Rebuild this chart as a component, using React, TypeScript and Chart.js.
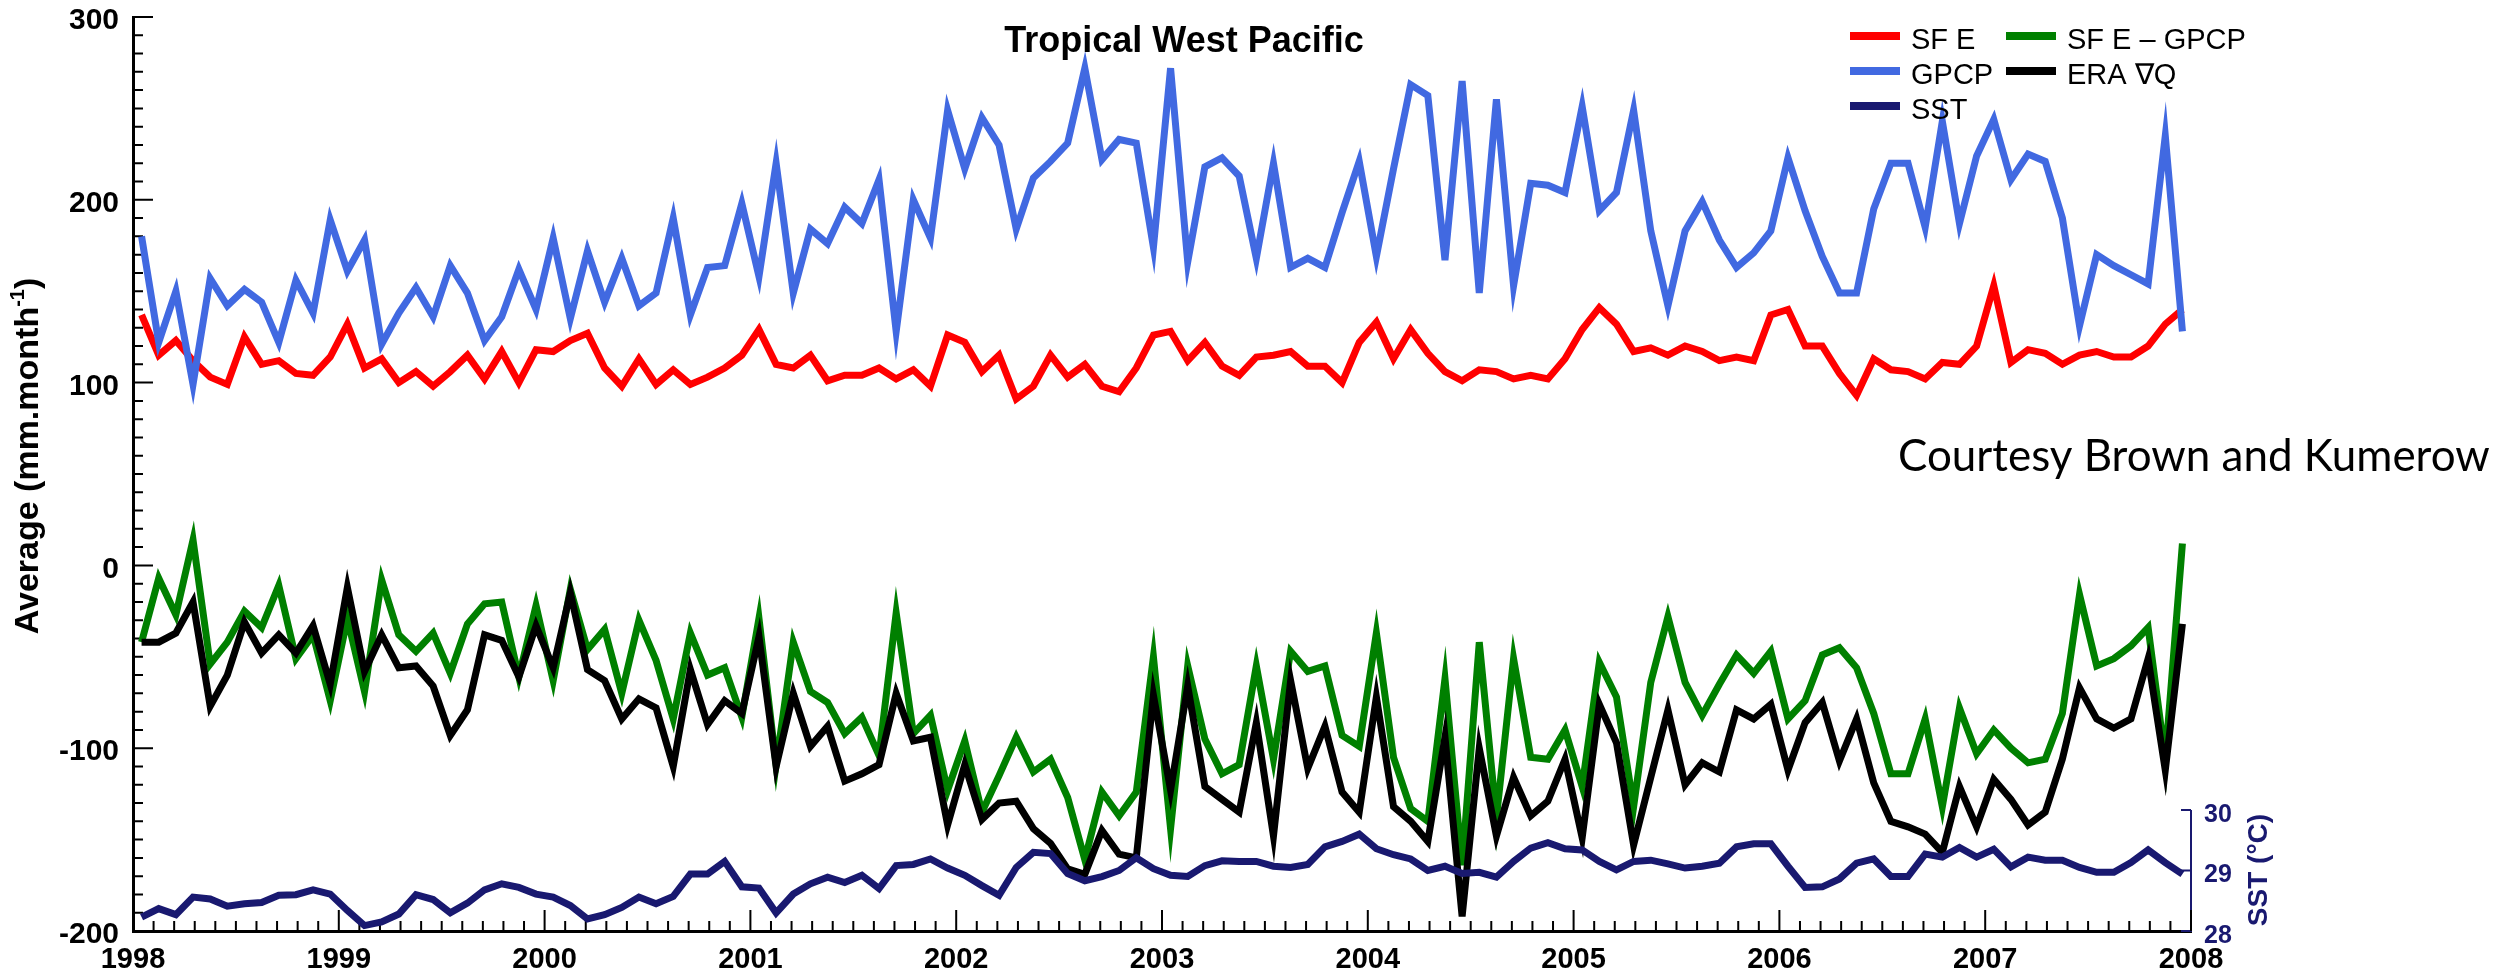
import React, { useEffect, useRef } from "react";
import { Chart, registerables } from "chart.js";

Chart.register(...registerables);

// ---------- data ----------
const YEAR_TICKS = [1998, 1999, 2000, 2001, 2002, 2003, 2004, 2005, 2006, 2007, 2008];
const LEFT_TICKS = [-200, -100, 0, 100, 200, 300];
const SST_TICKS = [28, 29, 30];
const SST_AXIS_MAX = 43.1; // SST 28..30 occupies the bottom strip of the plot

const SF_E = [
  137, 115, 123, 112, 103, 99, 125, 110, 112, 105, 104, 114,
  132, 108, 113, 100, 106, 98, 106, 115, 102, 117, 100, 118,
  117, 123, 127, 108, 98, 113, 99, 107, 99, 103, 108, 115,
  129, 110, 108, 115, 101, 104, 104, 108, 102, 107, 98, 126,
  122, 106, 115, 91, 98, 115, 103, 110, 98, 95, 108, 126,
  128, 112, 122, 109, 104, 114, 115, 117, 109, 109, 100, 122,
  133, 113, 129, 116, 106, 101, 107, 106, 102, 104, 102, 113,
  129, 141, 132, 117, 119, 115, 120, 117, 112, 114, 112, 137,
  140, 120, 120, 105, 93, 113, 107, 106, 102, 111, 110, 120,
  153, 111, 118, 116, 110, 115, 117, 114, 114, 120, 132, 140,
];

const GPCP = [
  180, 122, 150, 99, 157, 142, 151, 144, 122, 156, 138, 189,
  161, 178, 121, 138, 152, 136, 164, 149, 123, 136, 162, 140,
  179, 135, 172, 144, 168, 142, 149, 190, 137, 163, 164, 198,
  158, 220, 149, 184, 176, 196, 187, 211, 128, 200, 179, 249,
  217, 245, 230, 184, 212, 221, 231, 272, 222, 233, 231, 174,
  272, 166, 218, 223, 213, 168, 220, 163, 168, 163, 193, 221,
  169, 217, 263, 257, 167, 265, 149, 255, 153, 209, 208, 204,
  251, 194, 204, 249, 183, 142, 183, 199, 178, 163, 171, 183,
  223, 194, 169, 149, 149, 195, 220, 220, 185, 243, 187, 224,
  244, 211, 225, 221, 190, 131, 170, 164, 159, 154, 235, 128,
];

const SFE_MINUS_GPCP = [
  -42, -7, -27, 14, -54, -42, -25, -34, -11, -51, -38, -74,
  -29, -69, -8, -38, -47, -37, -59, -32, -21, -20, -61, -22,
  -63, -13, -46, -35, -70, -30, -52, -84, -37, -60, -56, -83,
  -29, -109, -42, -69, -75, -92, -83, -104, -26, -92, -82, -123,
  -96, -135, -115, -94, -113, -106, -127, -161, -124, -137, -124, -50,
  -144, -55, -95, -114, -109, -55, -106, -47, -58, -55, -93, -99,
  -37, -105, -133, -140, -62, -164, -42, -138, -51, -105, -106, -90,
  -121, -53, -72, -132, -64, -28, -64, -82, -65, -49, -59, -47,
  -84, -74, -49, -45, -56, -81, -114, -114, -84, -132, -78, -103,
  -90, -100, -108, -106, -81, -16, -55, -51, -44, -34, -106, 12,
];

const ERA_DQ = [
  -42, -42, -37, -20, -77, -60, -31, -48, -38, -48, -33, -65,
  -12, -58, -38, -56, -55, -66, -93, -79, -38, -41, -61, -33,
  -56, -15, -57, -63, -84, -73, -78, -110, -57, -87, -74, -81,
  -39, -110, -70, -99, -88, -118, -114, -109, -70, -96, -94, -142,
  -109, -139, -130, -129, -144, -152, -166, -169, -145, -158, -160, -71,
  -123, -66, -121, -128, -135, -86, -148, -63, -111, -88, -124, -135,
  -72, -132, -140, -151, -94, -192, -100, -148, -116, -137, -129, -106,
  -149, -76, -97, -153, -116, -79, -120, -108, -113, -79, -84, -76,
  -112, -86, -75, -107, -84, -119, -140, -143, -147, -157, -121, -143,
  -117, -128, -142, -135, -106, -67, -84, -89, -84, -51, -112, -32,
];

const SST = [
  28.23, 28.37, 28.27, 28.56, 28.53, 28.41, 28.45, 28.47, 28.59, 28.6, 28.68, 28.61,
  28.34, 28.09, 28.15, 28.28, 28.6, 28.52, 28.3, 28.46, 28.68, 28.78, 28.72, 28.61,
  28.56, 28.42, 28.2, 28.27, 28.39, 28.56, 28.45, 28.57, 28.94, 28.94, 29.15, 28.73,
  28.71, 28.3, 28.61, 28.78, 28.89, 28.8, 28.92, 28.7, 29.08, 29.1, 29.19, 29.04,
  28.92, 28.75, 28.59, 29.05, 29.3, 29.28, 28.95, 28.83, 28.9, 29.0, 29.21, 29.03,
  28.92, 28.9, 29.08, 29.16, 29.15, 29.15, 29.07, 29.05, 29.1, 29.39, 29.48, 29.6,
  29.36, 29.26, 29.19, 29.0, 29.07, 28.95, 28.97, 28.89, 29.15, 29.37, 29.46, 29.36,
  29.34, 29.15, 29.01, 29.15, 29.17, 29.11, 29.04, 29.07, 29.12, 29.39, 29.44, 29.44,
  29.07, 28.72, 28.73, 28.86, 29.12, 29.19, 28.9, 28.9, 29.27, 29.22, 29.38, 29.22,
  29.35, 29.06, 29.22, 29.17, 29.17, 29.05, 28.97, 28.97, 29.13, 29.34, 29.13, 28.94,
];

// monthly samples at mid-month
const MONTH_X = SF_E.map((_, i) => YEAR_TICKS[0] + (i + 0.5) / 12);

const TITLE = "Tropical West Pacific";
const Y_TITLE = ["Average (mm.month", "-1", ")"];
const SST_TITLE = "SST (\u00B0C)";
const CREDIT = "Courtesy Brown and Kumerow";

// ---------- styles ----------
const FONT = '"Liberation Sans", Arial, Helvetica, sans-serif';
const NAVY = "#191970";
const W = 2507;
const H = 976;

const pts = (arr: number[]) => arr.map((v, i) => ({ x: MONTH_X[i], y: v }));

const decorPlugin = {
  id: "decor",
  beforeDatasetsDraw(chart: any) {
    const { ctx, chartArea: ca, scales } = chart;
    const x = scales.x;
    const y = scales.y;
    const y2 = scales.y2;
    ctx.save();
    ctx.lineCap = "butt";
    // SST axis (partial)
    ctx.strokeStyle = NAVY;
    ctx.lineWidth = 2;
    ctx.beginPath();
    ctx.moveTo(ca.right, y2.getPixelForValue(SST_TICKS[0]) + 1);
    ctx.lineTo(ca.right, y2.getPixelForValue(SST_TICKS[SST_TICKS.length - 1]));
    for (const v of SST_TICKS) {
      const py = y2.getPixelForValue(v);
      ctx.moveTo(ca.right, py);
      ctx.lineTo(ca.right - 10, py);
    }
    ctx.stroke();
    // inward ticks
    ctx.strokeStyle = "#000";
    ctx.lineWidth = 2;
    ctx.beginPath();
    const x0 = x.min;
    const nx = Math.round((x.max - x.min) * 10);
    for (let k = 0; k <= nx; k++) {
      const px = x.getPixelForValue(x0 + k / 10);
      const len = k % 10 === 0 ? 21 : 10;
      ctx.moveTo(px, ca.bottom);
      ctx.lineTo(px, ca.bottom - len);
    }
    const ny = Math.round((y.max - y.min) / 10);
    for (let k = 0; k <= ny; k++) {
      const py = y.getPixelForValue(y.min + k * 10);
      const len = k % 10 === 0 ? 20 : 10;
      ctx.moveTo(ca.left, py);
      ctx.lineTo(ca.left + len, py);
    }
    ctx.stroke();
    ctx.restore();
  },
  afterDraw(chart: any) {
    const { ctx, chartArea: ca } = chart;
    ctx.save();
    ctx.fillStyle = "#000";
    ctx.textAlign = "center";
    ctx.textBaseline = "alphabetic";

    // title
    ctx.font = `bold 36px ${FONT}`;
    ctx.fillText(TITLE, 1184, 52);

    // y title with superscript
    ctx.save();
    ctx.translate(38, 456);
    ctx.rotate(-Math.PI / 2);
    const mainF = `bold 34px ${FONT}`;
    const supF = `bold 20px ${FONT}`;
    ctx.font = mainF;
    const w1 = ctx.measureText(Y_TITLE[0]).width;
    const w3 = ctx.measureText(Y_TITLE[2]).width;
    ctx.font = supF;
    const w2 = ctx.measureText(Y_TITLE[1]).width;
    let sx = -(w1 + w2 + w3) / 2;
    ctx.textAlign = "left";
    ctx.font = mainF;
    ctx.fillText(Y_TITLE[0], sx, 0);
    sx += w1;
    ctx.font = supF;
    ctx.fillText(Y_TITLE[1], sx, -14);
    sx += w2;
    ctx.font = mainF;
    ctx.fillText(Y_TITLE[2], sx, 0);
    ctx.restore();

    // SST title
    ctx.save();
    ctx.translate(ca.right + 76, 870);
    ctx.rotate(-Math.PI / 2);
    ctx.fillStyle = NAVY;
    ctx.textAlign = "center";
    ctx.font = `bold 28px ${FONT}`;
    ctx.fillText(SST_TITLE, 0, 0);
    ctx.restore();

    // legend (two columns)
    const ds = chart.data.datasets;
    const order = [0, 1, 4, 2, 3]; // SF E, GPCP, SST | SF E - GPCP, ERA
    const slots = [
      [1850, 36], [1850, 71], [1850, 106],
      [2006, 36], [2006, 71],
    ];
    ctx.font = `29px ${FONT}`;
    ctx.textAlign = "left";
    order.forEach((di, k) => {
      const [lx, ly] = slots[k];
      ctx.strokeStyle = ds[di].borderColor;
      ctx.lineWidth = 8;
      ctx.lineCap = "butt";
      ctx.beginPath();
      ctx.moveTo(lx, ly);
      ctx.lineTo(lx + 50, ly);
      ctx.stroke();
      ctx.fillStyle = "#000";
      ctx.fillText(ds[di].label, lx + 61, ly + 13);
    });

    // credit
    ctx.font = `48px Lato, "Open Sans", sans-serif`;
    const cw = ctx.measureText(CREDIT).width;
    const size = 48 * (592 / cw);
    ctx.font = `${size}px Lato, "Open Sans", sans-serif`;
    ctx.fillText(CREDIT, 1898, 471);

    ctx.restore();
  },
};

export default function App() {
  const ref = useRef<HTMLCanvasElement | null>(null);

  useEffect(() => {
    if (!ref.current) return;
    const common = { pointRadius: 0, borderWidth: 7, tension: 0, borderJoinStyle: "miter" as const, fill: false };
    const chart = new Chart(ref.current, {
      type: "line",
      data: {
        datasets: [
          { label: "SF E", data: pts(SF_E), borderColor: "#ff0000", yAxisID: "y", order: 5, ...common },
          { label: "GPCP", data: pts(GPCP), borderColor: "#4169e1", yAxisID: "y", order: 4, ...common },
          { label: "SF E \u2013 GPCP", data: pts(SFE_MINUS_GPCP), borderColor: "#008000", yAxisID: "y", order: 3, ...common },
          { label: "ERA \u2207Q", data: pts(ERA_DQ), borderColor: "#000000", yAxisID: "y", order: 2, ...common },
          { label: "SST", data: pts(SST), borderColor: NAVY, yAxisID: "y2", order: 1, ...common },
        ],
      },
      options: {
        responsive: false,
        animation: false,
        layout: { padding: { top: 17, left: 0, right: 0, bottom: 0 } },
        plugins: {
          legend: { display: false },
          tooltip: { enabled: false },
          title: { display: false },
        },
        scales: {
          x: {
            type: "linear",
            position: "bottom",
            min: YEAR_TICKS[0],
            max: YEAR_TICKS[YEAR_TICKS.length - 1],
            afterBuildTicks: (s: any) => {
              s.ticks = YEAR_TICKS.map((v) => ({ value: v }));
            },
            afterFit: (s: any) => {
              s.height = H - 931;
              s.paddingLeft = 0;
              s.paddingRight = 0;
            },
            ticks: {
              autoSkip: false,
              maxRotation: 0,
              padding: 12,
              color: "#000",
              font: { family: FONT, size: 29, weight: "bold" },
              callback: (v: any) => String(v),
            },
            grid: { display: false, drawTicks: false },
            border: { display: true, color: "#000", width: 3 },
          },
          y: {
            type: "linear",
            position: "left",
            min: LEFT_TICKS[0],
            max: LEFT_TICKS[LEFT_TICKS.length - 1],
            afterBuildTicks: (s: any) => {
              s.ticks = LEFT_TICKS.map((v) => ({ value: v }));
            },
            afterFit: (s: any) => {
              s.width = 133;
              s.paddingTop = 0;
              s.paddingBottom = 0;
            },
            ticks: {
              padding: 14,
              labelOffset: 4,
              color: "#000",
              font: { family: FONT, size: 30, weight: "bold" },
              callback: (v: any) => String(v),
            },
            grid: { display: false, drawTicks: false },
            border: { display: true, color: "#000", width: 3 },
          },
          y2: {
            type: "linear",
            position: "right",
            min: SST_TICKS[0],
            max: SST_AXIS_MAX,
            afterBuildTicks: (s: any) => {
              s.ticks = SST_TICKS.map((v) => ({ value: v }));
            },
            afterFit: (s: any) => {
              s.width = W - 2191;
              s.paddingTop = 0;
              s.paddingBottom = 0;
            },
            ticks: {
              padding: 13,
              labelOffset: 5,
              color: NAVY,
              font: { family: FONT, size: 25, weight: "bold" },
              callback: (v: any) => String(v),
            },
            grid: { display: false, drawTicks: false },
            border: { display: false },
          },
        },
      },
      plugins: [decorPlugin],
    });
    return () => chart.destroy();
  }, []);

  return (
    <div style={{ position: "absolute", left: 0, top: 0, width: W, height: H, background: "#fff" }}>
      <canvas ref={ref} width={W} height={H} style={{ display: "block" }} />
    </div>
  );
}
